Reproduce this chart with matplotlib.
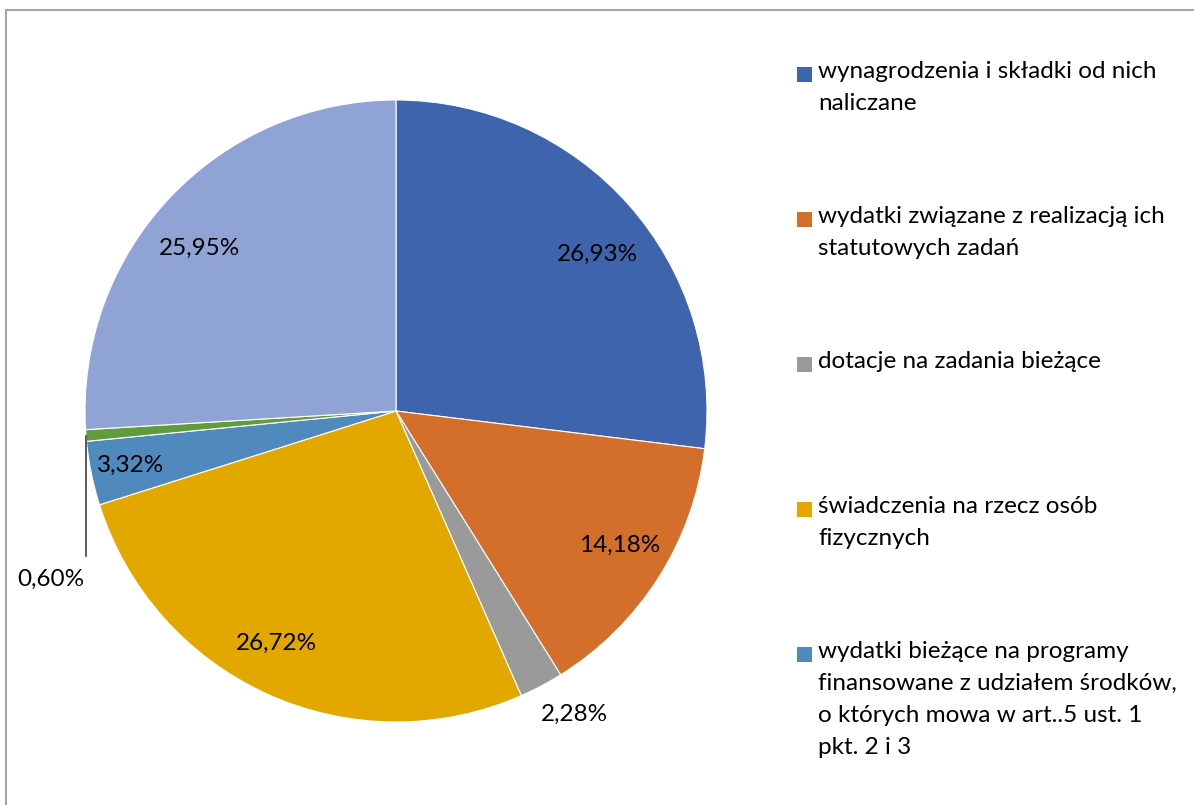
import numpy as np
import matplotlib.pyplot as plt
from matplotlib.patches import Rectangle

plt.rcParams['font.family'] = ['Lato', 'DejaVu Sans']

values = [26.93, 14.18, 2.28, 26.72, 3.32, 0.60, 25.95]
pct_labels = ['26,93%', '14,18%', '2,28%', '26,72%', '3,32%', '0,60%', '25,95%']
colors = ['#3F64AE', '#D46E2B', '#9A9A9A', '#E2A800', '#4F89BD', '#609C3E', '#8FA3D4']
legend_labels = [
    'wynagrodzenia i składki od nich\nnaliczane',
    'wydatki związane z realizacją ich\nstatutowych zadań',
    'dotacje na zadania bieżące',
    'świadczenia na rzecz osób\nfizycznych',
    'wydatki bieżące na programy\nfinansowane z udziałem środków,\no których mowa w art..5 ust. 1\npkt. 2 i 3',
]
# label placement (radius fraction, angle nudge in degrees)
label_r = [0.82, 0.84, 1.13, 0.84, 0.87, None, 0.82]
label_da = [-3.7, 1.6, 2.6, -2.8, 0.0, 0.0, 3.7]

fig = plt.figure(figsize=(11.94, 8.05), dpi=100)
# outer frame (only top/left visible in the reference crop)
fig.patches.append(Rectangle((6/1194, -0.05), 1.2, (805 - 10)/805 + 0.05,
                             transform=fig.transFigure, fill=False,
                             edgecolor='#A6A6A6', linewidth=1.5))

r_px = 311
cx, cy = 396, 411
ax = fig.add_axes([(cx - r_px) / 1194, (805 - cy - r_px) / 805, 2 * r_px / 1194, 2 * r_px / 805])
wedges, _ = ax.pie(values, colors=colors, startangle=90, counterclock=False,
                   radius=1.0, wedgeprops=dict(edgecolor='white', linewidth=0.8))
ax.set_xlim(-1, 1)
ax.set_ylim(-1, 1)
ax.set_aspect('equal')
ax.axis('off')

for w, lab, rr, da in zip(wedges, pct_labels, label_r, label_da):
    mid = np.deg2rad((w.theta1 + w.theta2) / 2)
    if rr is None:
        # small slice: leader line straight down to label outside
        x0, y0 = np.cos(mid), np.sin(mid)
        ax.plot([x0, x0], [y0, -0.465], color='#404040', lw=1.2, clip_on=False)
        ax.text(-1.11, -0.54, lab, ha='center', va='center', fontsize=17.5, color='#000000')
        continue
    a = mid + np.deg2rad(da)
    ax.text(rr * np.cos(a), rr * np.sin(a), lab, ha='center', va='center',
            fontsize=17.5, color='#000000')

# legend drawn by hand (fixed spacing of first lines)
first_line_y = [75, 220, 365, 510, 655]
for col, lab, y in zip(colors, legend_labels, first_line_y):
    fig.patches.append(Rectangle((797/1194, 1 - (y + 7)/805), 15/1194, 15/805,
                                 transform=fig.transFigure, facecolor=col, edgecolor='none'))
    fig.text(818/1194, 1 - (y - 14)/805, lab, ha='left', va='top', fontsize=17.5,
             linespacing=1.65, color='#000000')

fig.savefig('out.png', dpi=100)
